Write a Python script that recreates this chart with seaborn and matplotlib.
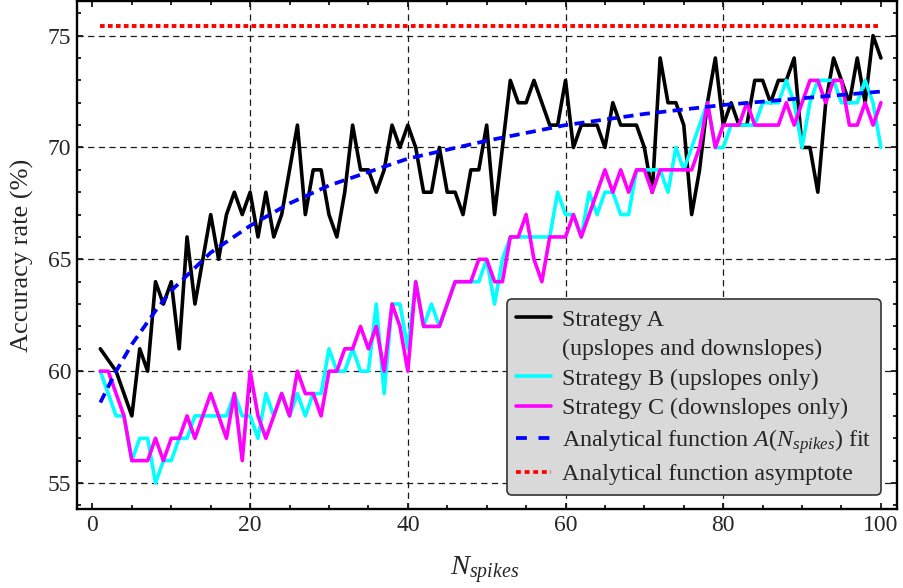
import matplotlib
matplotlib.use("Agg")
import matplotlib.pyplot as plt
import pandas as pd
import seaborn as sns
from matplotlib.lines import Line2D
from matplotlib.ticker import MultipleLocator

# Number of spikes used for classification
n_spikes = list(range(1, 101))

# Accuracy rate (%) for each strategy
strategy_a = [61, 60.5, 60, 59, 58, 61, 60, 64, 63, 64,
              61, 66, 63, 65, 67, 65, 67, 68, 67, 68,
              66, 68, 66, 67, 69, 71, 67, 69, 69, 67,
              66, 68, 71, 69, 69, 68, 69, 71, 70, 71,
              70, 68, 68, 70, 68, 68, 67, 69, 69, 71,
              67, 70, 73, 72, 72, 73, 72, 71, 71, 73,
              70, 71, 71, 71, 70, 72, 71, 71, 71, 70,
              68, 74, 72, 72, 71, 67, 69, 72, 74, 71,
              72, 71, 71, 73, 73, 72, 73, 73, 74, 70,
              70, 68, 72, 74, 73, 72, 74, 72, 75, 74]

strategy_b = [60, 59, 58, 58, 56, 57, 57, 55, 56, 56,
              57, 57, 58, 58, 58, 58, 58, 59, 58, 58,
              57, 59, 58, 59, 58, 59, 58, 59, 59, 61,
              60, 60, 61, 60, 60, 63, 59, 63, 63, 61,
              64, 62, 63, 62, 63, 64, 64, 64, 64, 65,
              63, 65, 66, 66, 66, 66, 66, 66, 68, 67,
              67, 66, 68, 67, 68, 68, 67, 67, 69, 69,
              69, 69, 68, 70, 69, 70, 71, 72, 70, 70,
              71, 71, 71, 71, 72, 72, 72, 73, 72, 70,
              72, 73, 73, 73, 72, 72, 72, 73, 72, 70]

strategy_c = [60, 60, 59, 58, 56, 56, 56, 57, 56, 57,
              57, 58, 57, 58, 59, 58, 57, 59, 56, 60,
              58, 57, 58, 59, 58, 60, 59, 59, 58, 60,
              60, 61, 61, 62, 61, 62, 60, 63, 62, 60,
              64, 62, 62, 62, 63, 64, 64, 64, 65, 65,
              64, 64, 66, 66, 67, 65, 64, 66, 66, 66,
              67, 66, 67, 68, 69, 68, 69, 68, 69, 69,
              68, 69, 69, 69, 69, 69, 70, 72, 70, 71,
              71, 71, 72, 71, 71, 71, 71, 72, 71, 72,
              73, 73, 72, 73, 73, 71, 71, 72, 71, 72]

# Fitted analytical function A(N_spikes) and its asymptote
fit_n = [1, 3, 5, 8, 10, 15, 20, 25, 30, 40, 50, 60, 70, 80, 90, 100]
fit_acc = [58.6, 60.0, 61.2, 62.7, 63.6, 65.3, 66.5, 67.5, 68.3,
           69.5, 70.3, 71.0, 71.5, 71.9, 72.2, 72.5]
asymptote_n = [1, 100]
asymptote_acc = [75.45, 75.45]

sns.set_theme(style="ticks")
plt.rcParams["font.family"] = ["Liberation Serif", "DejaVu Serif"]
plt.rcParams["mathtext.fontset"] = "custom"
plt.rcParams["mathtext.rm"] = "Liberation Serif"
plt.rcParams["mathtext.it"] = "Liberation Serif:italic"

fig = plt.figure(figsize=(9.04, 5.88), dpi=100, facecolor="white")
ax = fig.add_axes([0.0848, 0.1344, 0.9071, 0.8636])
ax.set_facecolor("white")

df = pd.DataFrame({"N": n_spikes, "A": strategy_a,
                   "B": strategy_b, "C": strategy_c})
fit_df = pd.DataFrame({"N": fit_n, "acc": fit_acc})
asym_df = pd.DataFrame({"N": asymptote_n, "acc": asymptote_acc})

LW = 2.6
sns.lineplot(data=df, x="N", y="A", color="black", lw=LW, ax=ax, zorder=3)
sns.lineplot(data=df, x="N", y="B", color="#00FFFF", lw=LW, ax=ax, zorder=4)
sns.lineplot(data=df, x="N", y="C", color="#FF00FF", lw=LW, ax=ax, zorder=5)
sns.lineplot(data=fit_df, x="N", y="acc", color="#0000FF", lw=2.7, ax=ax, zorder=6)
ax.lines[-1].set_dashes([2.7, 1.7])
sns.lineplot(data=asym_df, x="N", y="acc", color="#FF0000", lw=2.8, ax=ax, zorder=7)
ax.lines[-1].set_dashes([1.2, 0.85])
ax.lines[-1].set_dash_capstyle("butt")

# Dashed grid at the interior major ticks
for xv in [20, 40, 60, 80]:
    ax.axvline(xv, color="#1a1a1a", lw=0.9, ls=(0, (5, 3.5)), zorder=1)
for yv in [55, 60, 65, 70, 75]:
    ax.axhline(yv, color="#1a1a1a", lw=0.9, ls=(0, (5, 3.5)), zorder=1)

ax.set_xlim(-2, 102)
ax.set_ylim(53.84, 76.54)
ax.xaxis.set_major_locator(MultipleLocator(20))
ax.xaxis.set_minor_locator(MultipleLocator(5))
ax.yaxis.set_major_locator(MultipleLocator(5))
ax.yaxis.set_minor_locator(MultipleLocator(1))
ax.tick_params(which="both", direction="in", top=True, right=True,
               color="black", width=1.2)
ax.tick_params(which="major", length=4.5, labelsize=17, pad=4)
ax.tick_params(which="minor", length=2.6)
for sp in ax.spines.values():
    sp.set_color("black")
    sp.set_linewidth(1.7)

ax.set_ylabel("Accuracy rate (%)", fontsize=19)
ax.yaxis.set_label_coords(-0.052, 0.5)
ax.set_xlabel(r"$N_{spikes}$", fontsize=20.5)
ax.xaxis.set_label_coords(0.498, -0.09)

handles = [
    Line2D([], [], color="black", lw=LW),
    Line2D([], [], color="none", lw=LW),
    Line2D([], [], color="#00FFFF", lw=LW),
    Line2D([], [], color="#FF00FF", lw=LW),
    Line2D([], [], color="#0000FF", lw=2.7, dashes=[2.9, 3.1]),
    Line2D([], [], color="#FF0000", lw=2.7, dashes=[1.3, 1.0], dash_capstyle="butt"),
]
labels = [
    "Strategy A",
    "(upslopes and downslopes)",
    "Strategy B (upslopes only)",
    "Strategy C (downslopes only)",
    r"Analytical function $A(N_{spikes})$ fit",
    "Analytical function asymptote",
]
leg = ax.legend(handles, labels, loc="lower right",
                bbox_to_anchor=(0.981, 0.0276), borderaxespad=0,
                fontsize=17.3, frameon=True, fancybox=True, framealpha=1,
                facecolor="#D9D9D9", edgecolor="#333333",
                handlelength=1.45, handletextpad=0.45, labelspacing=0.32,
                borderpad=0.4)
leg.get_frame().set_linewidth(1.2)
leg.set_zorder(10)

fig.savefig("out.png", dpi=100, facecolor="white")
